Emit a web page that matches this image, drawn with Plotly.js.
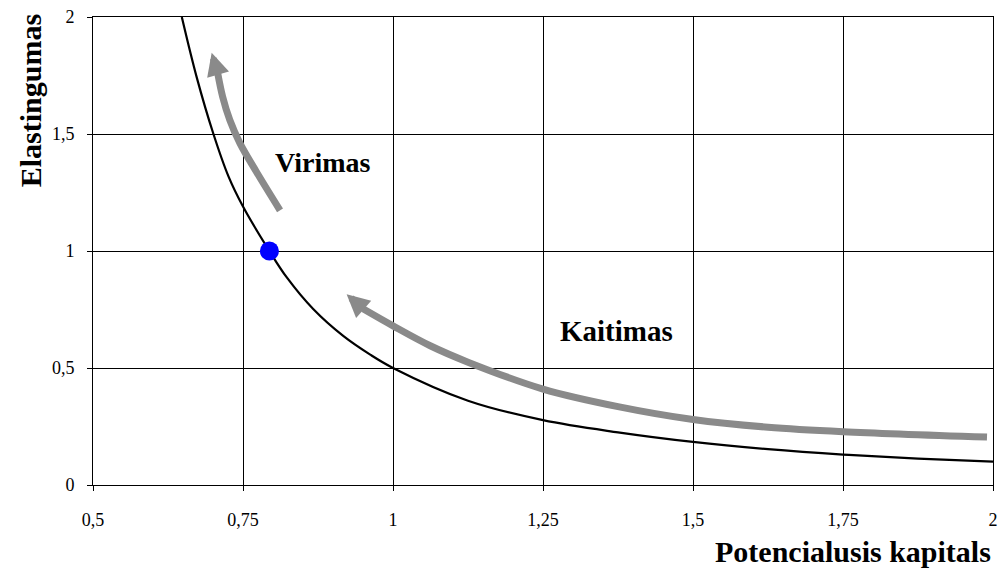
<!DOCTYPE html>
<html>
<head>
<meta charset="utf-8">
<script src="https://cdn.plot.ly/plotly-3.0.1.min.js"></script>
<style>html,body{margin:0;padding:0;background:#fff;}#chart{width:1000px;height:572px;}</style>
</head>
<body>
<div id="chart"></div>
<script>
// Main curve: Elastingumas vs Potencialusis kapitals
var curveX = [0.648, 0.673, 0.7006, 0.7256, 0.75, 0.794, 0.823, 0.867, 0.917, 0.962, 1.0, 1.125, 1.25, 1.375, 1.5, 1.625, 1.75, 1.875, 2.0];
var curveY = [2.0, 1.741, 1.501, 1.32, 1.19, 1.0, 0.887, 0.752, 0.637, 0.557, 0.5, 0.36, 0.277, 0.225, 0.184, 0.153, 0.13, 0.113, 0.10];

// Highlighted point
var pointX = [0.794];
var pointY = [1.0];

// "Kaitimas" arrow path (from head base to tail)
var kaitX = [0.95, 1.0, 1.062, 1.125, 1.25, 1.375, 1.5, 1.625, 1.75, 1.99];
var kaitY = [0.753, 0.68, 0.595, 0.525, 0.41, 0.335, 0.28, 0.247, 0.228, 0.205];
var kaitTip = [0.9227, 0.815];

// "Virimas" arrow path (from head base to tail)
var virX = [0.708, 0.716, 0.728, 0.745, 0.772, 0.8117];
var virY = [1.758, 1.66, 1.56, 1.46, 1.34, 1.174];
var virTip = [0.6978, 1.847];

// Tick values
var xTicks = [0.5, 0.75, 1, 1.25, 1.5, 1.75, 2];
var yTicks = [0, 0.5, 1, 1.5, 2];

var labels = ["Virimas", "Kaitimas"];
var labelX = [0.883, 1.372];
var labelY = [1.38, 0.66];

var gray = '#8a8a8a';
var serif = 'Liberation Serif, Times New Roman, serif';

var traces = [
  {x: kaitX, y: kaitY, mode: 'lines', line: {color: gray, width: 7, shape: 'spline', smoothing: 1}, hoverinfo: 'skip'},
  {x: virX, y: virY, mode: 'lines', line: {color: gray, width: 7, shape: 'spline', smoothing: 1}, hoverinfo: 'skip'},
  {x: curveX, y: curveY, mode: 'lines', line: {color: '#000', width: 2.2, shape: 'spline', smoothing: 1}},
  {x: pointX, y: pointY, mode: 'markers', marker: {color: '#0000ff', size: 19}}
];

var annotations = [
  {x: kaitTip[0], y: kaitTip[1], ax: kaitX[0], ay: kaitY[0], axref: 'x', ayref: 'y', xref: 'x', yref: 'y',
   text: '', showarrow: true, arrowhead: 2, arrowsize: 0.65, arrowwidth: 7, arrowcolor: gray, standoff: 0},
  {x: virTip[0], y: virTip[1], ax: virX[0], ay: virY[0], axref: 'x', ayref: 'y', xref: 'x', yref: 'y',
   text: '', showarrow: true, arrowhead: 2, arrowsize: 0.65, arrowwidth: 7, arrowcolor: gray, standoff: 0},
  {x: labelX[0], y: labelY[0], xref: 'x', yref: 'y', text: '<b>' + labels[0] + '</b>', showarrow: false,
   font: {family: serif, size: 28, color: '#000'}},
  {x: labelX[1], y: labelY[1], xref: 'x', yref: 'y', text: '<b>' + labels[1] + '</b>', showarrow: false,
   font: {family: serif, size: 29, color: '#000'}},
  {x: 1, y: -0.143, xref: 'paper', yref: 'paper', xanchor: 'right', yanchor: 'middle',
   text: '<b>Potencialusis kapitals</b>', showarrow: false, font: {family: serif, size: 30, color: '#000'}},
  {x: -0.07, y: 0.822, xref: 'paper', yref: 'paper', xanchor: 'center', yanchor: 'middle', textangle: -90,
   text: '<b>Elastingumas</b>', showarrow: false, font: {family: serif, size: 30, color: '#000'}}
];

var layout = {
  width: 1000, height: 572,
  margin: {l: 93, r: 7, t: 17, b: 87},
  paper_bgcolor: '#fff', plot_bgcolor: '#fff',
  separators: ', ',
  showlegend: false,
  xaxis: {
    range: [0.5, 2], tickvals: xTicks, ticks: 'outside', ticklen: 5, tickcolor: '#000',
    showline: true, mirror: true, linecolor: '#000', linewidth: 1,
    showgrid: true, gridcolor: '#000', gridwidth: 1, zeroline: false,
    tickfont: {family: serif, size: 18, color: '#000'}, ticklabelstandoff: 13
  },
  yaxis: {
    range: [0, 2], tickvals: yTicks, ticks: 'outside', ticklen: 5, tickcolor: '#000',
    showline: true, mirror: true, linecolor: '#000', linewidth: 1,
    showgrid: true, gridcolor: '#000', gridwidth: 1, zeroline: false,
    tickfont: {family: serif, size: 18, color: '#000'}, ticklabelstandoff: 9
  },
  annotations: annotations
};

Plotly.newPlot('chart', traces, layout, {displayModeBar: false, staticPlot: true});
</script>
</body>
</html>
